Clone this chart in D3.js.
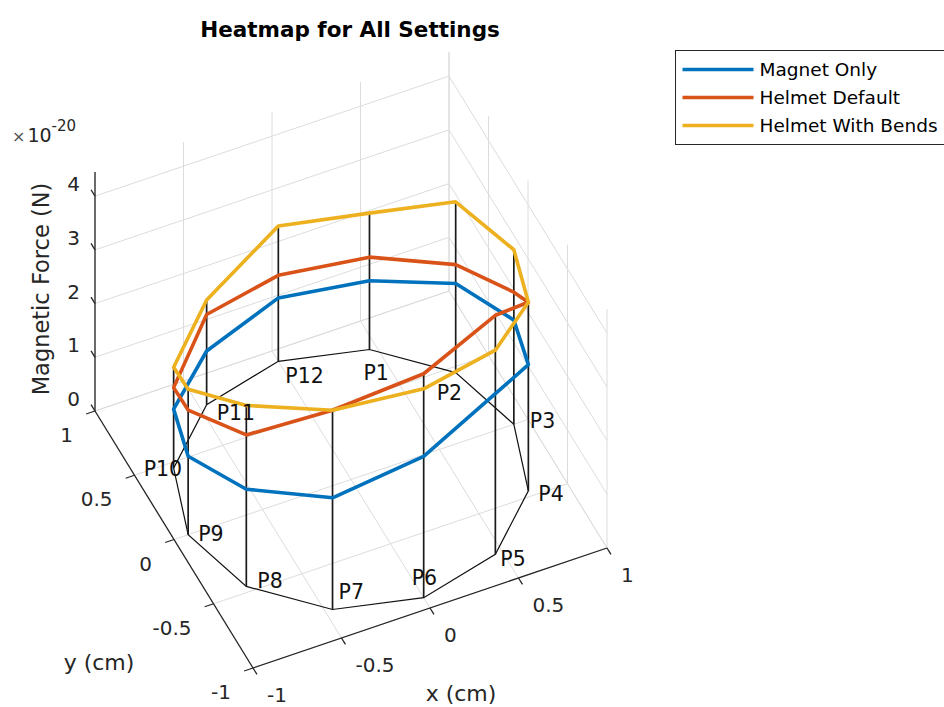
<!DOCTYPE html>
<html>
<head>
<meta charset="utf-8">
<script src="https://cdn.jsdelivr.net/npm/d3@7"></script>
<style>
  body { margin: 0; background: #fff; }
  svg { display: block; font-family: "DejaVu Sans", sans-serif; }
</style>
</head>
<body>
<svg id="chart" width="944" height="707"></svg>
<script>
// ---- data (force in units of 1e-20 N) ----
var pointNames = ["P1", "P2", "P3", "P4", "P5", "P6", "P7", "P8", "P9", "P10", "P11", "P12"];
var pointAngles = [60, 30, 0, -30, -60, -90, -120, -150, 180, 150, 120, 90]; // degrees
var pointRadius = 0.92; // cm
var magnetOnly    = [1.28, 1.66, 1.94, 2.35, 2.99, 2.63, 2.08, 1.81, 1.46, 1.10, 1.00, 1.18];
var helmetDefault = [1.72, 2.01, 2.46, 3.51, 4.45, 4.17, 3.71, 2.82, 2.32, 1.50, 1.68, 1.60];
var helmetBends   = [2.54, 3.18, 3.25, 3.51, 3.80, 3.89, 3.71, 3.37, 2.71, 1.88, 1.95, 2.52];
var seriesNames = ["Magnet Only", "Helmet Default", "Helmet With Bends"];
var xTicks = [-1, -0.5, 0, 0.5, 1];
var yTicks = [-1, -0.5, 0, 0.5, 1];
var zTicks = [0, 1, 2, 3, 4];
var zExponent = "-20";
var zMax = 4.45;

var colors = ["#0072BD", "#D95319", "#EDB120"];
// little pixel nudges for the point labels (left edge, vertical centre)
var labelNudge = [[-6, 23], [-19, 20], [16, -3], [10, 3], [5, 5], [-12, -20],
                  [6, -17], [11, -5], [10, -1], [-30, 1], [10, 8], [7, 15]];

// ---- projection: orthographic box, corner (x=-1, y=-1, z=0) ----
var ORIGIN = [253, 668],
    XVEC = [354, -120],
    YVEC = [-158, -257],
    ZVEC = [0, -239];

var xScale = d3.scaleLinear().domain([-1, 1]).range([0, 1]),
    yScale = d3.scaleLinear().domain([-1, 1]).range([0, 1]),
    zScale = d3.scaleLinear().domain([0, zMax]).range([0, 1]);

function proj(x, y, z) {
  var u = xScale(x), v = yScale(y), w = zScale(z);
  return [ORIGIN[0] + u * XVEC[0] + v * YVEC[0] + w * ZVEC[0],
          ORIGIN[1] + u * XVEC[1] + v * YVEC[1] + w * ZVEC[1]];
}

var svg = d3.select("#chart");
var line = d3.line();
var closedLine = d3.line().curve(d3.curveLinearClosed);

// ---- grid ----
var grid = svg.append("g")
    .attr("stroke", "#dcdcdc")
    .attr("stroke-width", 1)
    .attr("fill", "none");

function seg(g, a, b) {
  g.append("path").attr("d", line([a, b]));
}

// floor
xTicks.forEach(function (t) { seg(grid, proj(t, -1, 0), proj(t, 1, 0)); });
yTicks.forEach(function (t) { seg(grid, proj(-1, t, 0), proj(1, t, 0)); });
// back wall y = 1
xTicks.forEach(function (t) { seg(grid, proj(t, 1, 0), proj(t, 1, zMax)); });
zTicks.forEach(function (t) { seg(grid, proj(-1, 1, t), proj(1, 1, t)); });
// back wall x = 1
yTicks.forEach(function (t) { seg(grid, proj(1, t, 0), proj(1, t, zMax)); });
zTicks.forEach(function (t) { seg(grid, proj(1, -1, t), proj(1, 1, t)); });

// ---- axes ----
var axes = svg.append("g")
    .attr("stroke", "#262626")
    .attr("stroke-width", 1.3)
    .attr("fill", "none");
seg(axes, proj(-1, 1, 0), proj(-1, 1, zMax));   // z axis
seg(axes, proj(-1, 1, 0), proj(-1, -1, 0));     // y axis
seg(axes, proj(-1, -1, 0), proj(1, -1, 0));     // x axis

var tk = 0.05;
zTicks.forEach(function (t) { seg(axes, proj(-1, 1, t), proj(-1, 1 + tk, t)); });
yTicks.forEach(function (t) { seg(axes, proj(-1, t, 0), proj(-1 - tk, t, 0)); });
xTicks.forEach(function (t) { seg(axes, proj(t, -1, 0), proj(t, -1 - tk, 0)); });

var tickText = svg.append("g")
    .attr("font-size", 20)
    .attr("fill", "#262626");

zTicks.forEach(function (t) {
  var p = proj(-1, 1, t);
  tickText.append("text")
      .attr("x", p[0] - 15).attr("y", p[1] - 12)
      .attr("text-anchor", "end")
      .attr("dominant-baseline", "central")
      .text(String(t));
});
yTicks.forEach(function (t) {
  var p = proj(-1, t, 0);
  tickText.append("text")
      .attr("x", p[0] - 22).attr("y", p[1] + 24)
      .attr("text-anchor", "end")
      .attr("dominant-baseline", "central")
      .text(String(t));
});
xTicks.forEach(function (t) {
  var p = proj(t, -1, 0);
  tickText.append("text")
      .attr("x", p[0] + 14).attr("y", p[1] + 27)
      .attr("text-anchor", "start")
      .attr("dominant-baseline", "central")
      .text(String(t));
});

// exponent
var expo = svg.append("text")
    .attr("x", 12).attr("y", 142)
    .attr("fill", "#262626");
expo.append("tspan").attr("font-size", 16).attr("fill", "#555").text("\u00d7");
expo.append("tspan").attr("font-size", 19).attr("dx", 2).text("10");
expo.append("tspan").attr("font-size", 15).attr("dy", -11).text(zExponent);

// axis labels
svg.append("text")
    .attr("transform", "translate(41,289) rotate(-90)")
    .attr("text-anchor", "middle")
    .attr("dominant-baseline", "central")
    .attr("font-size", 22.5)
    .attr("fill", "#262626")
    .text("Magnetic Force (N)");
svg.append("text")
    .attr("x", 99).attr("y", 662)
    .attr("text-anchor", "middle")
    .attr("dominant-baseline", "central")
    .attr("font-size", 22)
    .attr("fill", "#262626")
    .text("y (cm)");
svg.append("text")
    .attr("x", 461).attr("y", 693)
    .attr("text-anchor", "middle")
    .attr("dominant-baseline", "central")
    .attr("font-size", 22)
    .attr("fill", "#262626")
    .text("x (cm)");

// title
svg.append("text")
    .attr("x", 350).attr("y", 29)
    .attr("text-anchor", "middle")
    .attr("dominant-baseline", "central")
    .attr("font-size", 21.5)
    .attr("font-weight", "bold")
    .attr("fill", "#000")
    .text("Heatmap for All Settings");

// ---- base ring and stems ----
var base = pointAngles.map(function (a) {
  var r = a * Math.PI / 180;
  return [pointRadius * Math.cos(r), pointRadius * Math.sin(r)];
});

svg.append("path")
    .attr("d", closedLine(base.map(function (b) { return proj(b[0], b[1], 0); })))
    .attr("fill", "none")
    .attr("stroke", "#111")
    .attr("stroke-width", 1.2);

var stems = svg.append("g").attr("stroke", "#1a1a1a").attr("stroke-width", 1.7);
base.forEach(function (b, i) {
  var top = Math.max(magnetOnly[i], helmetDefault[i], helmetBends[i]);
  seg(stems, proj(b[0], b[1], 0), proj(b[0], b[1], top));
});

// ---- series ----
var allSeries = [magnetOnly, helmetDefault, helmetBends];
allSeries.forEach(function (vals, s) {
  var pts = base.map(function (b, i) { return proj(b[0], b[1], vals[i]); });
  svg.append("path")
      .attr("d", closedLine(pts))
      .attr("fill", "none")
      .attr("stroke", colors[s])
      .attr("stroke-width", 3.6)
      .attr("stroke-linejoin", "round");
});

// ---- point labels ----
var lbl = svg.append("g").attr("font-size", 20.5).attr("fill", "#111");
base.forEach(function (b, i) {
  var p = proj(b[0], b[1], 0);
  lbl.append("text")
      .attr("x", p[0] + labelNudge[i][0])
      .attr("y", p[1] + labelNudge[i][1])
      .attr("dominant-baseline", "central")
      .text(pointNames[i]);
});

// ---- legend ----
var leg = svg.append("g").attr("transform", "translate(675.5,50.5)");
leg.append("rect")
    .attr("width", 290).attr("height", 94)
    .attr("fill", "#fff")
    .attr("stroke", "#262626")
    .attr("stroke-width", 1);
seriesNames.forEach(function (name, s) {
  var y = 19 + s * 28;
  leg.append("line")
      .attr("x1", 7).attr("x2", 78)
      .attr("y1", y).attr("y2", y)
      .attr("stroke", colors[s])
      .attr("stroke-width", 3.6);
  leg.append("text")
      .attr("x", 84).attr("y", y)
      .attr("dominant-baseline", "central")
      .attr("font-size", 18.5)
      .attr("fill", "#000")
      .text(name);
});
</script>
</body>
</html>
